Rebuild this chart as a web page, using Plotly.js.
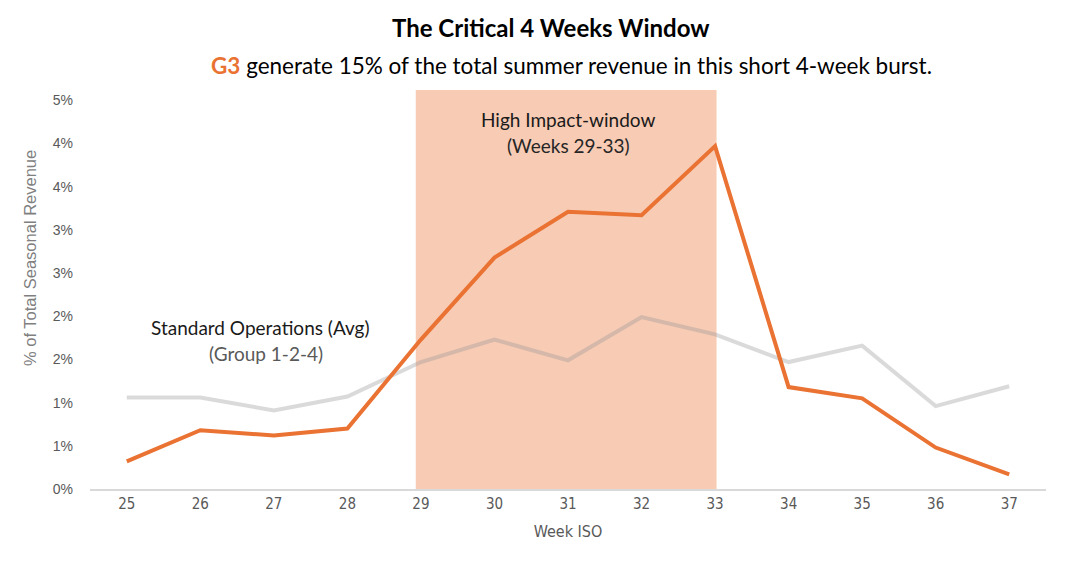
<!DOCTYPE html>
<html>
<head>
<meta charset="utf-8">
<script src="https://cdn.plot.ly/plotly-3.0.1.min.js"></script>
<style>html,body{margin:0;padding:0;background:#fff;}#chart{width:1066px;height:570px;}</style>
</head>
<body>
<div id="chart"></div>
<script>
const weeks = [25, 26, 27, 28, 29, 30, 31, 32, 33, 34, 35, 36, 37];
const weekLabels = ["25","26","27","28","29","30","31","32","33","34","35","36","37"];
const g3Share = [0.32, 0.68, 0.62, 0.70, 1.73, 2.68, 3.21, 3.17, 3.97, 1.18, 1.05, 0.48, 0.17];
const standardAvg = [1.06, 1.06, 0.91, 1.07, 1.47, 1.73, 1.49, 1.99, 1.79, 1.47, 1.66, 0.96, 1.19];
const yTickVals = [0, 0.5, 1, 1.5, 2, 2.5, 3, 3.5, 4, 4.5];
const yTickLabels = ["0%","1%","1%","2%","2%","3%","3%","4%","4%","5%"];
const windowStart = 28.93, windowEnd = 33.02;

const font = "Lato, 'Open Sans', sans-serif";
const narrow = "'Liberation Sans Narrow', 'DejaVu Sans Condensed', sans-serif";
const arial = "'Liberation Sans', Arial, sans-serif";

// plot area: x 90..1046, y 90..489 (pixels)
const px = v => (v - 90) / 956;
const py = v => (489 - v) / 399;

const traces = [
  {x: weeks, y: standardAvg, type: 'scatter', mode: 'lines', name: 'Standard Operations (Avg)',
   line: {color: 'rgba(148,148,148,0.35)', width: 4}, hoverinfo: 'skip'},
  {x: weeks, y: g3Share, type: 'scatter', mode: 'lines', name: 'G3',
   line: {color: '#EA7232', width: 4}, hoverinfo: 'skip'}
];

const layout = {
  width: 1066, height: 570,
  margin: {l: 90, r: 20, t: 90, b: 81},
  paper_bgcolor: '#fff', plot_bgcolor: '#fff',
  showlegend: false,
  xaxis: {
    range: [24.5, 37.5], tickvals: weeks, ticktext: weekLabels,
    showgrid: false, zeroline: false, showline: true, linecolor: '#D9D9D9', linewidth: 1.5,
    ticks: '', tickfont: {family: narrow, size: 15, color: '#595959'},
    title: {text: 'Week ISO', font: {family: narrow, size: 16, color: '#595959'}, standoff: 14}
  },
  yaxis: {
    range: [0, 4.62], tickvals: yTickVals, ticktext: yTickLabels,
    showgrid: false, zeroline: false, showline: false, ticks: '',
    tickfont: {family: arial, size: 14, color: '#595959'},
    ticklabelstandoff: 16
  },
  shapes: [
    {type: 'rect', xref: 'x', yref: 'y', x0: windowStart, x1: windowEnd, y0: 0, y1: 4.62,
     fillcolor: '#F7CBB4', line: {width: 0}, layer: 'below'}
  ],
  annotations: [
    {xref: 'paper', yref: 'paper', x: px(551), y: py(28), xanchor: 'center', yanchor: 'middle',
     text: '<b>The Critical 4 Weeks Window</b>', showarrow: false, font: {family: font, size: 24, color: '#000'}},
    {xref: 'paper', yref: 'paper', x: px(571), y: py(65), xanchor: 'center', yanchor: 'middle',
     text: '<b><span style="color:#EA7232">G3</span></b> generate 15% of the total summer revenue in this short 4-week burst.',
     showarrow: false, font: {family: font, size: 22.5, color: '#000'}},
    {xref: 'paper', yref: 'paper', x: px(30), y: py(258), xanchor: 'center', yanchor: 'middle', textangle: -90,
     text: '% of Total Seasonal Revenue', showarrow: false, font: {family: arial, size: 16.5, color: '#7F7F7F'}},
    {xref: 'x', yref: 'paper', x: 31, y: py(119), xanchor: 'center', yanchor: 'middle', showarrow: false,
     text: 'High Impact-window', font: {family: font, size: 19, color: '#1a1a1a'}},
    {xref: 'x', yref: 'paper', x: 31, y: py(145), xanchor: 'center', yanchor: 'middle', showarrow: false,
     text: '(Weeks 29-33)', font: {family: font, size: 19, color: '#262626'}},
    {xref: 'paper', yref: 'paper', x: px(260), y: py(327), xanchor: 'center', yanchor: 'middle', showarrow: false,
     text: 'Standard Operations (Avg)', font: {family: font, size: 19, color: '#1a1a1a'}},
    {xref: 'paper', yref: 'paper', x: px(266), y: py(353), xanchor: 'center', yanchor: 'middle', showarrow: false,
     text: '(Group 1-2-4)', font: {family: font, size: 19, color: '#595959'}}
  ]
};

Plotly.newPlot('chart', traces, layout, {displayModeBar: false, staticPlot: true});
</script>
</body>
</html>
